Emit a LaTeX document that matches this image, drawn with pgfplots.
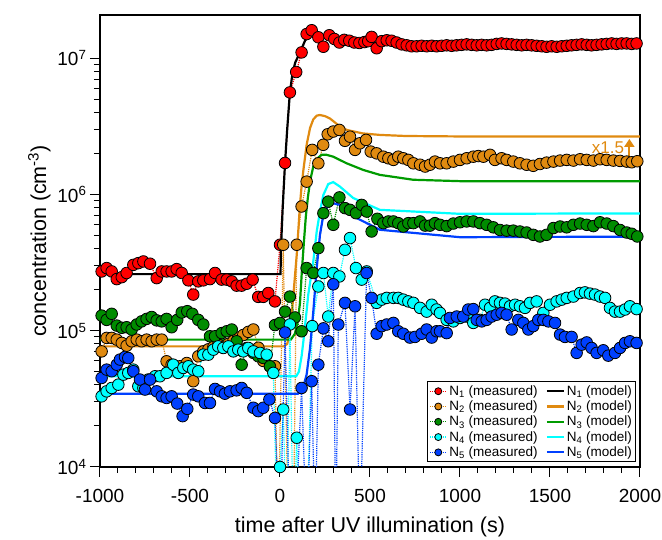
\documentclass[border=0pt]{standalone}
\usepackage{pgfplots}
\pgfplotsset{compat=1.18}
\usepackage{fontspec}
\setmainfont{Liberation Sans}
\usetikzlibrary{arrows.meta}
\definecolor{cred}{RGB}{255,0,0}
\definecolor{corange}{RGB}{224,138,16}
\definecolor{cgreen}{RGB}{0,140,0}
\definecolor{cgreenl}{RGB}{0,155,0}
\definecolor{ccyan}{RGB}{0,255,255}
\definecolor{cblue}{RGB}{0,64,255}
\begin{document}
\begin{tikzpicture}
\path[use as bounding box] (-100pt,-72pt) rectangle (562pt,467pt);
\begin{axis}[
  scale only axis, width=540pt, height=452pt,
  xmin=-1000, xmax=2000, ymode=log, ymin=1e4, ymax=2.07e7,
  xtick={-1000,-500,0,500,1000,1500,2000},
  xticklabels={-1000,-500,0,500,1000,1500,2000},
  minor x tick num=4,
  ytick={1e4,1e5,1e6,1e7},
  yticklabels={10\textsuperscript{4},10\textsuperscript{5},10\textsuperscript{6},10\textsuperscript{7}},
  tick pos=left, tick align=outside,
  major tick length=10pt, minor tick length=6pt,
  every tick/.style={black, line width=1pt},
  axis line style={line width=1.2pt},
  tick label style={font=\fontsize{19}{19}\selectfont},
  xticklabel style={yshift=-9pt},
  label style={font=\fontsize{21.5}{22}\selectfont},
  xlabel style={yshift=-7pt},
  xlabel={time after UV illumination (s)},
  ylabel={concentration (cm\textsuperscript{-3})},
  legend columns=2,
  legend style={at={(1,0)}, anchor=south east, xshift=-3.5pt, yshift=4.5pt,
    font=\fontsize{13.5}{15.8}\selectfont, draw=black, line width=1pt,
    cells={anchor=west}, inner sep=2pt,
    /tikz/every even column/.append style={column sep=6pt}},
  legend image post style={mark size=3.5pt},
  meas/.style={color=#1, densely dotted, line width=1.2pt, mark=*, mark size=5.8pt,
    mark options={solid, draw=black, line width=0.8pt, fill=#1}},
  model/.style={line width=2.2pt, no markers},
]
% N1 measured
\addplot[meas=cred] coordinates {
(-991,2.72e5)(-963,2.88e5)(-935,2.72e5)(-907,2.39e5)(-879,2.47e5)(-852,2.65e5)(-815,3.04e5)(-787,3.13e5)(-759,3.22e5)(-722,3.10e5)(-685,2.43e5)(-657,2.72e5)(-630,2.72e5)(-602,2.72e5)(-574,2.83e5)(-546,2.65e5)(-509,2.34e5)(-482,1.84e5)(-454,2.30e5)(-426,2.34e5)(-389,2.39e5)(-361,2.65e5)(-324,2.37e5)(-296,2.37e5)(-268,2.30e5)(-241,2.14e5)(-213,2.14e5)(-185,2.21e5)(-152,2.37e5)(-121,1.77e5)(-93,1.77e5)(-65,1.89e5)(-28,1.64e5)(0,4.27e5)(28,1.7e6)(55,5.6e6)(90,7.9e6)(120,1.1e7)(148,1.5e7)(176,1.6e7)(213,1.42e7)(241,1.21e7)(274,1.47e7)(302,1.38e7)(330,1.30e7)(357,1.36e7)(385,1.34e7)(413,1.30e7)(441,1.29e7)(469,1.31e7)(490,1.33e7)(509,1.43e7)(537,1.18e7)(565,1.33e7)(593,1.35e7)(620,1.34e7)(648,1.30e7)(676,1.26e7)(704,1.24e7)(731,1.22e7)(759,1.22e7)(787,1.23e7)(815,1.22e7)(843,1.23e7)(870,1.22e7)(898,1.23e7)(926,1.24e7)(954,1.23e7)(981,1.24e7)(1009,1.25e7)(1037,1.26e7)(1065,1.25e7)(1093,1.24e7)(1120,1.25e7)(1148,1.24e7)(1176,1.25e7)(1204,1.27e7)(1231,1.28e7)(1259,1.27e7)(1287,1.26e7)(1315,1.25e7)(1343,1.24e7)(1370,1.25e7)(1398,1.24e7)(1426,1.23e7)(1454,1.22e7)(1481,1.21e7)(1509,1.22e7)(1537,1.21e7)(1565,1.22e7)(1593,1.23e7)(1620,1.24e7)(1648,1.25e7)(1676,1.26e7)(1704,1.25e7)(1731,1.24e7)(1759,1.25e7)(1787,1.26e7)(1815,1.27e7)(1843,1.28e7)(1870,1.27e7)(1898,1.28e7)(1926,1.28e7)(1954,1.27e7)(1981,1.28e7)
};
\addlegendentry{N\textsubscript{1} (measured)}
\addplot[model, color=black] coordinates {
(-1000,2.6e5)(3,2.6e5)(5,3.9e5)(15,8e5)(28,1.7e6)(40,3e6)(55,5.6e6)(70,7.8e6)(85,9.3e6)(111,1.1e7)(140,1.35e7)(167,1.47e7)(190,1.48e7)(220,1.45e7)(260,1.4e7)(300,1.36e7)(350,1.32e7)(420,1.3e7)(500,1.29e7)(700,1.28e7)(2000,1.28e7)
};
\addlegendentry{N\textsubscript{1} (model)}
% N2 measured
\addplot[meas=corange] coordinates {
(-991,7.05e4)(-963,8.85e4)(-935,8.85e4)(-907,8.6e4)(-879,8.13e4)(-852,7.76e4)(-824,8.36e4)(-796,8.6e4)(-769,8.36e4)(-741,8.6e4)(-713,8.36e4)(-685,8.6e4)(-657,8.6e4)(-630,5.96e4)(-602,5.63e4)(-556,5.48e4)(-518,5.79e4)(-482,4.26e4)(-454,6.49e4)(-426,7.05e4)(-398,7.3e4)(-370,7.6e4)(-343,7.9e4)(-315,7.5e4)(-287,8.0e4)(-259,8.4e4)(-232,8.9e4)(-204,9.3e4)(-176,9.8e4)(-148,1.02e5)(-120,7.5e4)(-93,6.0e4)(-56,5.48e4)(-28,5.48e4)(-10,3e3)(18,4.27e5)(46,3e3)(74,3e3)(93,4.27e5)(120,8.15e5)(148,1.24e6)(179,2.12e6)(213,1.69e6)(240,2.31e6)(265,2.76e6)(296,2.89e6)(330,2.97e6)(361,2.47e6)(389,2.65e6)(417,2.12e6)(444,2.37e6)(478,2.51e6)(504,2.06e6)(537,2.0e6)(574,1.89e6)(602,1.84e6)(630,1.79e6)(657,1.89e6)(685,1.84e6)(713,1.79e6)(741,1.69e6)(778,1.65e6)(806,1.60e6)(833,1.65e6)(861,1.74e6)(889,1.69e6)(926,1.69e6)(963,1.74e6)(1000,1.79e6)(1037,1.84e6)(1074,1.89e6)(1102,1.91e6)(1130,1.89e6)(1167,1.95e6)(1194,1.79e6)(1231,1.84e6)(1259,1.79e6)(1296,1.74e6)(1333,1.69e6)(1370,1.65e6)(1407,1.62e6)(1444,1.67e6)(1481,1.71e6)(1519,1.74e6)(1556,1.77e6)(1593,1.79e6)(1630,1.77e6)(1667,1.81e6)(1704,1.79e6)(1741,1.77e6)(1778,1.81e6)(1815,1.79e6)(1852,1.77e6)(1889,1.76e6)(1926,1.74e6)(1954,1.72e6)(1985,1.75e6)
};
\addlegendentry{N\textsubscript{2} (measured)}
\addplot[model, color=corange] coordinates {
(-1000,7.67e4)(20,7.67e4)(40,8e4)(55,9.5e4)(65,1.3e5)(74,1.8e5)(83,2.5e5)(93,3.6e5)(102,5.5e5)(111,8.4e5)(120,1.15e6)(130,1.51e6)(148,2.31e6)(167,3.07e6)(185,3.55e6)(204,3.78e6)(222,3.82e6)(250,3.75e6)(278,3.6e6)(320,3.25e6)(370,2.97e6)(460,2.8e6)(555,2.73e6)(700,2.68e6)(1000,2.66e6)(2000,2.66e6)
};
\addlegendentry{N\textsubscript{2} (model)}
% N3 measured
\addplot[meas=cgreen] coordinates {
(-991,1.29e5)(-963,1.20e5)(-935,1.33e5)(-907,1.09e5)(-879,1.05e5)(-852,1.06e5)(-824,1.02e5)(-796,1.11e5)(-769,1.17e5)(-741,1.22e5)(-713,1.26e5)(-685,1.19e5)(-657,1.17e5)(-630,1.22e5)(-602,1.06e5)(-571,1.20e5)(-546,1.36e5)(-515,1.39e5)(-487,1.33e5)(-454,1.20e5)(-426,1.11e5)(-389,9.1e4)(-361,9.1e4)(-324,9.6e4)(-296,9.9e4)(-268,1.02e5)(-241,8.36e4)(-213,5.63e4)(-185,7.47e4)(-148,6.87e4)(-121,6.49e4)(-93,6.31e4)(-56,5.48e4)(-28,1.1e5)(0,1.14e5)(28,1.38e5)(55,1.78e5)(83,1.25e5)(120,9.9e4)(148,2.88e5)(185,2.65e5)(213,4.03e5)(241,7.28e5)(268,8.85e5)(296,5.98e5)(330,9.5e5)(361,7.93e5)(389,7.7e5)(422,7.28e5)(454,8.37e5)(482,7.48e5)(509,5.34e5)(541,6.62e5)(574,6.15e5)(602,6.33e5)(630,6.33e5)(657,6.15e5)(685,5.81e5)(713,6.15e5)(741,6.15e5)(778,6.33e5)(806,5.9e5)(833,5.9e5)(861,6.15e5)(889,5.98e5)(926,5.85e5)(963,6.11e5)(1000,6.24e5)(1037,6.33e5)(1074,6.33e5)(1111,6.15e5)(1148,5.98e5)(1185,5.73e5)(1222,5.48e5)(1259,5.42e5)(1296,5.42e5)(1333,5.34e5)(1370,5.25e5)(1407,5.05e5)(1444,4.91e5)(1481,5.05e5)(1519,5.66e5)(1556,5.81e5)(1593,5.73e5)(1630,5.98e5)(1667,6.11e5)(1704,5.98e5)(1741,5.85e5)(1778,6.24e5)(1815,6.11e5)(1852,5.85e5)(1889,5.48e5)(1926,5.25e5)(1954,5.14e5)(1985,4.91e5)
};
\addlegendentry{N\textsubscript{3} (measured)}
\addplot[model, color=cgreenl] coordinates {
(-1000,8.6e4)(60,8.6e4)(83,9.5e4)(100,1.2e5)(111,1.6e5)(122,2.8e5)(133,4.5e5)(144,7e5)(155,9.5e5)(167,1.25e6)(185,1.6e6)(204,1.82e6)(231,1.95e6)(259,1.95e6)(296,1.89e6)(370,1.69e6)(463,1.51e6)(555,1.39e6)(740,1.28e6)(1000,1.25e6)(2000,1.25e6)
};
\addlegendentry{N\textsubscript{3} (model)}
% N4 measured
\addplot[meas=ccyan] coordinates {
(-991,3.30e4)(-963,3.59e4)(-935,3.80e4)(-898,4.02e4)(-870,4.76e4)(-843,4.90e4)(-815,5.18e4)(-787,3.91e4)(-759,3.80e4)(-732,4.38e4)(-694,4.63e4)(-667,4.63e4)(-630,4.90e4)(-593,5.63e4)(-565,4.90e4)(-537,5.33e4)(-509,5.48e4)(-482,5.18e4)(-454,5.04e4)(-426,6.67e4)(-398,6.67e4)(-370,7.26e4)(-343,7.67e4)(-315,7.47e4)(-287,7.67e4)(-259,7.05e4)(-232,7.26e4)(-204,7.05e4)(-176,7.47e4)(-148,7.05e4)(-111,6.87e4)(-74,6.67e4)(-37,4.9e4)(-14,3e3)(0,1.0e4)(18,2.64e4)(37,3e3)(55,1.11e5)(74,3e3)(93,1.64e4)(111,3e3)(148,3e3)(179,1.08e5)(213,2.11e5)(241,2.65e5)(268,1.27e5)(296,2.65e5)(330,2.5e5)(361,3.92e5)(389,4.78e5)(422,2.88e5)(454,2.37e5)(482,2.72e5)(537,1.6e5)(565,1.69e5)(593,1.74e5)(630,1.74e5)(657,1.74e5)(685,1.69e5)(713,1.64e5)(741,1.60e5)(778,1.47e5)(815,1.38e5)(843,1.55e5)(870,1.43e5)(889,1.35e5)(926,1.20e5)(963,1.17e5)(1000,1.24e5)(1037,1.27e5)(1074,1.14e5)(1111,1.20e5)(1139,1.55e5)(1167,1.47e5)(1194,1.64e5)(1222,1.60e5)(1250,1.58e5)(1278,1.51e5)(1306,1.55e5)(1333,1.51e5)(1361,1.47e5)(1389,1.60e5)(1426,1.64e5)(1463,1.35e5)(1500,1.55e5)(1537,1.64e5)(1565,1.69e5)(1593,1.74e5)(1630,1.78e5)(1667,1.89e5)(1694,1.91e5)(1722,1.87e5)(1750,1.84e5)(1778,1.78e5)(1806,1.74e5)(1833,1.47e5)(1861,1.38e5)(1889,1.38e5)(1917,1.43e5)(1944,1.51e5)(1981,1.44e5)
};
\addlegendentry{N\textsubscript{4} (measured)}
\addplot[model, color=ccyan] coordinates {
(-1000,4.63e4)(90,4.63e4)(105,5e4)(120,6.5e4)(130,8.4e4)(148,1.4e5)(157,1.84e5)(185,3.22e5)(204,5.34e5)(222,7.48e5)(241,9.9e5)(268,1.19e6)(296,1.23e6)(333,1.14e6)(407,9.4e5)(555,7.7e5)(1000,7.2e5)(2000,7.25e5)
};
\addlegendentry{N\textsubscript{4} (model)}
% N5 measured
\addplot[meas=cblue] coordinates {
(-991,4.50e4)(-963,5.18e4)(-935,5.04e4)(-907,5.63e4)(-889,6.14e4)(-861,6.42e4)(-843,6.3e4)(-815,5.04e4)(-778,4.38e4)(-750,3.70e4)(-722,4.38e4)(-685,3.59e4)(-657,3.30e4)(-630,3.21e4)(-602,3.30e4)(-571,2.92e4)(-541,2.36e4)(-515,2.67e4)(-482,3.40e4)(-454,3.30e4)(-417,2.95e4)(-389,2.95e4)(-361,3.74e4)(-333,3.59e4)(-306,3.45e4)(-278,3.59e4)(-241,3.65e4)(-213,3.80e4)(-185,3.50e4)(-148,2.72e4)(-121,2.57e4)(-93,2.72e4)(-59,3.13e4)(-28,2.29e4)(0,3e3)(28,9.7e4)(56,3e3)(83,3e3)(120,3.8e4)(148,3e3)(176,4.26e4)(195,3e3)(213,5.63e4)(241,1.04e5)(268,8.36e4)(296,2.19e5)(310,3e3)(324,1.11e5)(361,1.6e5)(389,2.64e4)(417,1.51e5)(444,3e3)(481,2.65e5)(509,1.74e5)(537,9.5e4)(565,1.08e5)(593,1.11e5)(630,1.14e5)(657,9.9e4)(685,9.5e4)(722,8.9e4)(750,9.0e4)(787,9.5e4)(815,1.02e5)(843,8.9e4)(870,9.9e4)(889,9.9e4)(926,9.6e4)(944,1.24e5)(982,1.27e5)(1018,1.27e5)(1046,1.43e5)(1074,1.44e5)(1093,1.20e5)(1121,1.17e5)(1148,1.20e5)(1176,1.27e5)(1204,1.31e5)(1231,1.35e5)(1259,1.31e5)(1287,1.02e5)(1324,1.20e5)(1352,1.14e5)(1380,1.02e5)(1407,1.08e5)(1435,1.20e5)(1463,1.20e5)(1491,1.17e5)(1528,1.14e5)(1556,9.36e4)(1583,9.0e4)(1620,9.0e4)(1648,6.87e4)(1676,7.9e4)(1704,8.2e4)(1731,7.47e4)(1759,6.87e4)(1796,7.18e4)(1824,6.56e4)(1861,6.87e4)(1889,7.47e4)(1917,8.13e4)(1944,8.36e4)(1981,8.13e4)
};
\addlegendentry{N\textsubscript{5} (measured)}
\addplot[model, color=cblue] coordinates {
(-1000,3.45e4)(100,3.45e4)(120,3.6e4)(130,3.9e4)(148,4.77e4)(167,7.47e4)(185,1.38e5)(204,2.88e5)(222,5.05e5)(241,7.08e5)(268,8.37e5)(296,8.6e5)(333,8.37e5)(426,6.7e5)(555,5.5e5)(1000,4.85e5)(2000,4.9e5)
};
\addlegendentry{N\textsubscript{5} (model)}
\node[text=corange, font=\fontsize{17}{17}\selectfont] at (axis cs:1822,2.19e6) {x1.5};
\draw[corange, line width=2pt, -{Triangle[length=8pt,width=10pt]}] (axis cs:1941,1.8e6) -- (axis cs:1941,2.55e6);
\end{axis}
\end{tikzpicture}
\end{document}
